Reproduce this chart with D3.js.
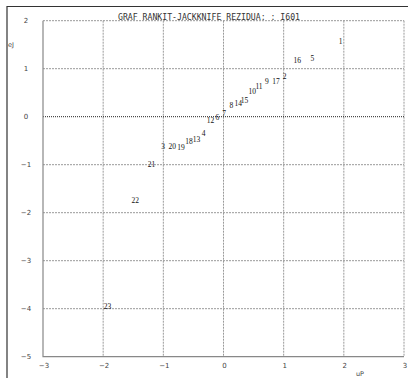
<!DOCTYPE html>
<html>
<head>
<meta charset="utf-8">
<script src="https://cdn.jsdelivr.net/npm/d3@7"></script>
<style>
  html, body { margin: 0; padding: 0; background: #fff; }
  svg { display: block; }
</style>
</head>
<body>
<svg id="chart" width="408" height="378"></svg>
<script>
// ---- data ----
const labels = ["23","22","21","3","20","19","18","13","4","12","6","7","8","14","15","10","11","9","17","2","16","5","1"];
const rankit = [-1.99,-1.53,-1.26,-1.035,-0.914,-0.77,-0.636,-0.51,-0.36,-0.28,-0.133,-0.02,0.10,0.183,0.285,0.415,0.53,0.69,0.81,0.985,1.163,1.446,1.917];
const jackknife = [-3.96,-1.735,-1.0,-0.61,-0.62,-0.63,-0.52,-0.48,-0.34,-0.085,-0.02,0.07,0.23,0.285,0.33,0.53,0.64,0.73,0.73,0.83,1.17,1.22,1.56];
const xTicks = [-3,-2,-1,0,1,2,3];
const yTicks = [2,1,0,-1,-2,-3,-4,-5];
const title = "GRAF RANKIT-JACKKNIFE REZIDUA: : I601";
const xLabel = "uP";
const yLabel = "eJ";

const svg = d3.select("#chart");
const x = d3.scaleLinear().domain([-3,3]).range([43,404]);
const y = d3.scaleLinear().domain([-5,2]).range([356.7,20.7]);

// outer frame
svg.append("path").attr("d","M7,378 L7,6.5 L408,6.5")
  .attr("fill","none").attr("stroke","#333").attr("stroke-width",1.2);

// grid
const g = svg.append("g");
xTicks.forEach(t => {
  if (t === -3) return;
  g.append("line").attr("x1",x(t)).attr("x2",x(t)).attr("y1",y(2)).attr("y2",y(-5))
    .attr("stroke","#999").attr("stroke-dasharray","2,1").attr("stroke-width",1);
});
yTicks.forEach(t => {
  if (t === -5) return;
  const zero = t === 0;
  g.append("line").attr("x1",x(-3)).attr("x2",x(3)).attr("y1",y(t)).attr("y2",y(t))
    .attr("stroke", zero ? "#222" : "#999")
    .attr("stroke-dasharray", zero ? "1,1" : "2,1").attr("stroke-width",1);
});
// axes lines
svg.append("path").attr("d",`M${x(-3)},${y(2)} L${x(-3)},${y(-5)} L${x(3)},${y(-5)}`)
  .attr("fill","none").attr("stroke","#888").attr("stroke-width",1.2);

// tick labels
const tickFont = "'DejaVu Sans', sans-serif";
svg.append("g").selectAll("text").data(yTicks).join("text")
  .attr("x",26).attr("y",d=>y(d)).attr("dy","0.35em")
  .attr("text-anchor","middle").attr("font-family",tickFont).attr("font-size",7)
  .attr("fill","#444").text(d => d < 0 ? "\u2212" + Math.abs(d) : d);
svg.append("g").selectAll("text").data(xTicks).join("text")
  .attr("x",d=>x(d)+1).attr("y",368)
  .attr("text-anchor","middle").attr("font-family",tickFont).attr("font-size",7)
  .attr("fill","#444").text(d => d < 0 ? "\u2212" + Math.abs(d) : d);

// axis titles
svg.append("text").attr("x",360).attr("y",376).attr("text-anchor","middle")
  .attr("font-family",tickFont).attr("font-size",6.5).attr("fill","#444").text(xLabel);
svg.append("text").attr("x",11).attr("y",47).attr("text-anchor","middle")
  .attr("font-family",tickFont).attr("font-size",6.5).attr("fill","#444").text(yLabel);

// title
svg.append("text").attr("x",118).attr("y",19.5)
  .attr("font-family","'DejaVu Sans Mono', monospace").attr("font-size",9)
  .attr("textLength",182).attr("lengthAdjust","spacingAndGlyphs")
  .attr("fill","#333").text(title);

// point labels
svg.append("g").selectAll("text").data(labels).join("text")
  .attr("x",(d,i)=>x(rankit[i])).attr("y",(d,i)=>y(jackknife[i])).attr("dy","0.35em")
  .attr("font-family","'Liberation Serif', serif").attr("font-size",7.5)
  .attr("fill","#111").text(d=>d);
</script>
</body>
</html>
